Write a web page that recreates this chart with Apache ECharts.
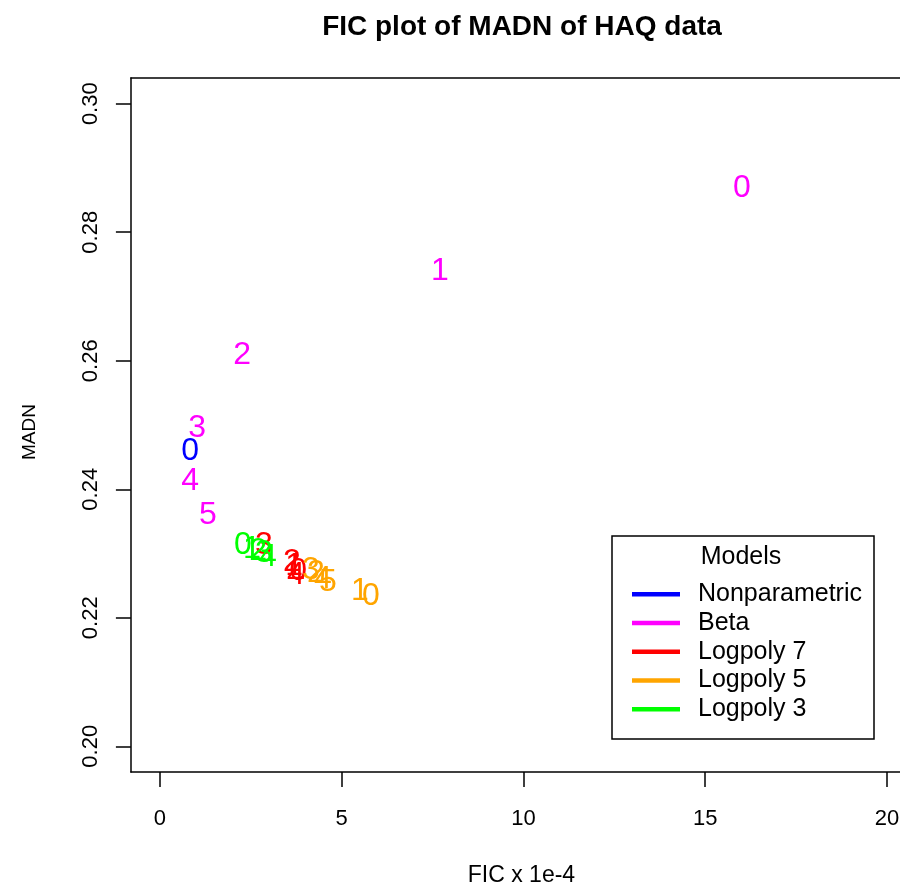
<!DOCTYPE html>
<html>
<head>
<meta charset="utf-8">
<script src="https://cdn.jsdelivr.net/npm/echarts@6/dist/echarts.min.js"></script>
<style>
html, body { margin: 0; padding: 0; background: #fff; }
#chart { width: 900px; height: 888px; }
</style>
</head>
<body>
<div id="chart"></div>
<script>
// FIC (x 1e-4) and MADN for each fitted model; the label is the index of the fit.
const nonparFIC = [0.83];
const nonparMADN = [0.2460];
const nonparLab = ['0'];

const betaFIC = [16.01, 7.70, 2.26, 1.02, 0.83, 1.32];
const betaMADN = [0.2868, 0.2740, 0.2609, 0.2495, 0.2412, 0.2359];
const betaLab = ['0', '1', '2', '3', '4', '5'];

const lp7FIC = [3.80, 3.69, 3.63, 2.86, 3.74];
const lp7MADN = [0.2272, 0.2280, 0.2286, 0.2313, 0.2267];
const lp7Lab = ['0', '1', '2', '3', '4'];

const lp5FIC = [5.80, 5.50, 4.29, 4.15, 4.48, 4.62];
const lp5MADN = [0.2233, 0.2241, 0.2269, 0.2274, 0.2260, 0.2255];
const lp5Lab = ['0', '1', '2', '3', '4', '5'];

const lp3FIC = [2.28, 2.53, 2.70, 2.86, 2.97];
const lp3MADN = [0.2313, 0.2306, 0.2303, 0.2300, 0.2294];
const lp3Lab = ['0', '1', '2', '3', '4'];

const modelNames = ['Nonparametric', 'Beta', 'Logpoly 7', 'Logpoly 5', 'Logpoly 3'];
const modelColors = ['#0000FF', '#FF00FF', '#FF0000', '#FFA500', '#00FF00'];

const xTicks = [0, 5, 10, 15, 20];
const yTicks = [0.20, 0.22, 0.24, 0.26, 0.28, 0.30];

const FONT = 'Liberation Sans, Arial, sans-serif';

function pts(xs, ys, labs) {
  return xs.map((x, i) => [x, ys[i], labs[i]]);
}

const groups = [
  pts(nonparFIC, nonparMADN, nonparLab),
  pts(betaFIC, betaMADN, betaLab),
  pts(lp7FIC, lp7MADN, lp7Lab),
  pts(lp5FIC, lp5MADN, lp5Lab),
  pts(lp3FIC, lp3MADN, lp3Lab)
];

// each fit is drawn as its index number in the model colour
const series = groups.map((data, k) => ({
  name: modelNames[k],
  type: 'scatter',
  data: data,
  symbolSize: 0,
  itemStyle: { color: modelColors[k], opacity: 1 },
  label: {
    show: true,
    position: 'inside',
    formatter: p => p.value[2],
    color: modelColors[k],
    opacity: 1,
    fontFamily: FONT,
    fontSize: 32,
    align: 'center',
    verticalAlign: 'middle'
  },
  emphasis: { disabled: true },
  silent: true
}));

const frameLine = { show: true, onZero: false, lineStyle: { color: '#000', width: 1.5 } };

const chart = echarts.init(document.getElementById('chart'), null, { renderer: 'canvas' });
chart.setOption({
  animation: false,
  backgroundColor: '#fff',
  title: {
    text: 'FIC plot of MADN of HAQ data',
    left: 517,
    top: 8,
    textAlign: 'center',
    textStyle: { fontFamily: FONT, fontWeight: 'bold', fontSize: 28, color: '#000' }
  },
  grid: {
    left: 130.9,
    top: 78,
    right: 0,
    height: 694,
    outerBoundsMode: 'none',
    containLabel: false,
    show: false
  },
  xAxis: [
    {
      type: 'value',
      position: 'bottom',
      min: -0.8,
      max: 20.36,
      name: 'FIC x 1e-4',
      nameLocation: 'middle',
      nameGap: 92,
      nameTextStyle: { fontFamily: FONT, fontSize: 23, color: '#000', padding: [0, 0, 0, 12] },
      axisLine: frameLine,
      axisTick: { show: true, inside: false, length: 15, lineStyle: { color: '#000', width: 1.5 }, customValues: xTicks },
      axisLabel: { fontFamily: FONT, fontSize: 22, color: '#000', margin: 36, customValues: xTicks, formatter: v => String(v) },
      splitLine: { show: false }
    },
    {
      // top edge of the plot frame
      type: 'value',
      position: 'top',
      min: -0.8,
      max: 20.36,
      axisLine: frameLine,
      axisTick: { show: false },
      axisLabel: { show: false },
      splitLine: { show: false }
    }
  ],
  yAxis: {
    type: 'value',
    position: 'left',
    min: 0.196,
    max: 0.304,
    name: 'MADN',
    nameLocation: 'middle',
    nameGap: 92,
    nameTextStyle: { fontFamily: FONT, fontSize: 19, color: '#000', padding: [0, 14, 0, 0] },
    axisLine: frameLine,
    axisTick: { show: true, inside: false, length: 15, lineStyle: { color: '#000', width: 1.5 }, customValues: yTicks },
    axisLabel: { fontFamily: FONT, fontSize: 22, color: '#000', margin: 29, rotate: 90, customValues: yTicks, formatter: v => v.toFixed(2) },
    splitLine: { show: false }
  },
  legend: {
    orient: 'vertical',
    left: 632,
    top: 580,
    data: modelNames,
    icon: 'rect',
    itemWidth: 48,
    itemHeight: 4.5,
    itemGap: 0,
    padding: 0,
    selectedMode: false,
    textStyle: { fontFamily: FONT, fontSize: 25, color: '#000', lineHeight: 28.7, padding: [0, 0, 0, 13] }
  },
  graphic: [
    {
      type: 'rect',
      shape: { x: 612, y: 536, width: 262, height: 203 },
      style: { fill: 'none', stroke: '#000', lineWidth: 1.5 },
      z: 10
    },
    {
      type: 'text',
      x: 741,
      y: 557,
      style: { text: 'Models', font: '25px ' + FONT, fill: '#000', align: 'center', verticalAlign: 'middle' },
      z: 10
    }
  ],
  series: series
});
</script>
</body>
</html>
